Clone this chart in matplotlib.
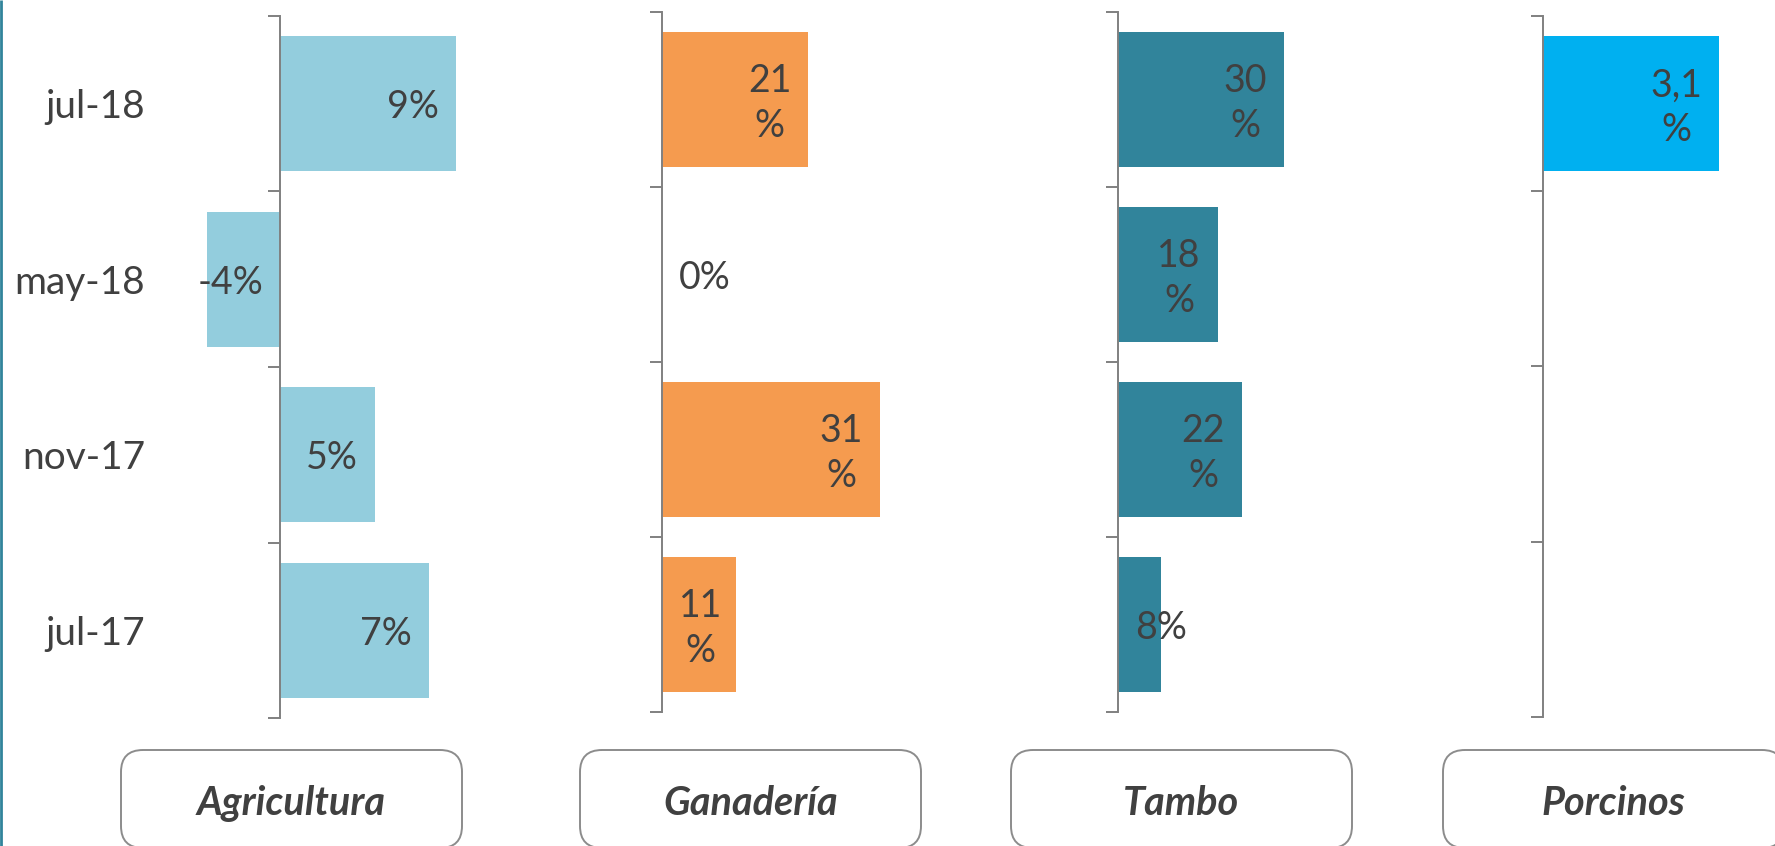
import numpy as np
import matplotlib
matplotlib.use("Agg")
import matplotlib.pyplot as plt
from matplotlib.patches import FancyBboxPatch

plt.rcParams['font.family'] = ['Lato', 'DejaVu Sans']

# ---------------- data ----------------
categories = ["jul-18", "may-18", "nov-17", "jul-17"]   # top to bottom
sectors = ["Agricultura", "Ganadería", "Tambo", "Porcinos"]

agricultura = [8.8, -3.65, 4.75, 7.45]
ganaderia = [20.9, 0.0, 31.1, 10.6]
tambo = [29.9, 18.0, 22.3, 7.7]
porcinos = [3.1, np.nan, np.nan, np.nan]

agricultura_labels = ["9%", "-4%", "5%", "7%"]
ganaderia_labels = ["21\n%", "0%", "31\n%", "11\n%"]
tambo_labels = ["30\n%", "18\n%", "22\n%", "8%"]
porcinos_labels = ["3,1\n%", "", "", ""]

series = [agricultura, ganaderia, tambo, porcinos]
series_labels = [agricultura_labels, ganaderia_labels, tambo_labels, porcinos_labels]
colors = ["#93CDDD", "#F59B4F", "#31849B", "#00B0F0"]

# ---------------- layout (pixels) ----------------
W, H = 1775, 846
DPI = 100
fig = plt.figure(figsize=(W / DPI, H / DPI), dpi=DPI)

# (x-left px, x-right px, top px, bottom px, xmin, xmax)
panels = [
    (180, 480, 16, 718, -5, 10),
    (662, 942, 12, 712, 0, 40),
    (1118, 1340, 12, 712, 0, 40),
    (1543, 1770, 16, 717, 0, 4),
]

TXT = "#404040"
AX = "#808080"
PAD = 17  # px
FS = 27

def px2pt(p):
    return p * 72.0 / DPI

# overlay axes in pixel units
ov = fig.add_axes([0, 0, 1, 1], zorder=0)
ov.set_xlim(0, W)
ov.set_ylim(H, 0)
ov.axis("off")

y = np.arange(len(categories))
renderer = fig.canvas.get_renderer()

for i, (vals, labs, col, pan) in enumerate(zip(series, series_labels, colors, panels)):
    xl, xr, yt, yb, xmin, xmax = pan
    ax = fig.add_axes([xl / W, 1 - yb / H, (xr - xl) / W, (yb - yt) / H], zorder=2)
    ax.patch.set_alpha(0)
    ax.set_xlim(xmin, xmax)
    ax.set_ylim(len(categories) - 0.5, -0.5)
    v = np.array(vals, dtype=float)
    ax.barh(y, np.nan_to_num(v), height=0.77, color=col, zorder=1)

    for s in ["top", "right", "bottom"]:
        ax.spines[s].set_visible(False)
    ax.spines["left"].set_position(("data", 0))
    ax.spines["left"].set_color(AX)
    ax.spines["left"].set_linewidth(1.4)
    ax.spines["left"].set_zorder(3)
    ax.set_xticks([])
    ax.set_yticks(np.arange(-0.5, len(categories), 1.0))
    ax.set_yticklabels([])
    ax.tick_params(axis="y", which="major", direction="out", length=px2pt(12),
                   width=1.4, color=AX)
    if i == 0:
        ax.set_yticks(y, minor=True)
        ax.set_yticklabels(categories, minor=True, va="center_baseline")
        ax.tick_params(axis="y", which="minor", length=0, pad=px2pt(135),
                       labelsize=28, labelcolor=TXT)
    else:
        ax.tick_params(axis="y", which="minor", length=0)

    # data labels
    px_per_unit = (xr - xl) / (xmax - xmin)
    for yi, (val, lab) in enumerate(zip(v, labs)):
        if not lab or np.isnan(val):
            continue
        t = ax.text(0, yi, lab, fontsize=FS, color=TXT,
                    va="center", ha="left", multialignment="center",
                    linespacing=1.3, zorder=4)
        tw = t.get_window_extent(renderer=renderer).width
        t.remove()
        bar_px = abs(val) * px_per_unit
        fits = tw + 2 * PAD <= bar_px
        if val >= 0:
            if fits:
                xy, off, ha = (val, yi), -PAD, "right"
            else:
                xy, off, ha = (0, yi), PAD, "left"
        else:
            if fits:
                xy, off, ha = (val, yi), PAD, "left"
            else:
                xy, off, ha = (0, yi), -PAD, "right"
        two = "\n" in lab
        va = "center" if two else "center_baseline"
        yoff = -4 if two else 0
        ax.annotate(lab, xy=xy, xytext=(off, yoff), textcoords="offset pixels",
                    fontsize=FS, color=TXT, va=va,
                    ha=ha, multialignment="center", linespacing=1.3, zorder=4)

# sector boxes
box_left = [121, 580, 1011, 1443]
BOX_W, BOX_TOP, BOX_H = 341, 750, 98
for name, bl in zip(sectors, box_left):
    ov.add_patch(FancyBboxPatch((bl, BOX_TOP), BOX_W, BOX_H,
                                boxstyle="round,pad=0,rounding_size=22",
                                facecolor="white", edgecolor="#8C8C8C",
                                linewidth=1.4))
    ov.text(bl + BOX_W / 2, BOX_TOP + 50, name, fontsize=28.5, color=TXT,
            fontweight="bold", fontstyle="italic", ha="center",
            va="center_baseline")

# teal slide border at left
ov.plot([1, 1], [0, H], color="#31849B", linewidth=2.0, solid_capstyle="butt")

fig.savefig("out.png", dpi=DPI)
